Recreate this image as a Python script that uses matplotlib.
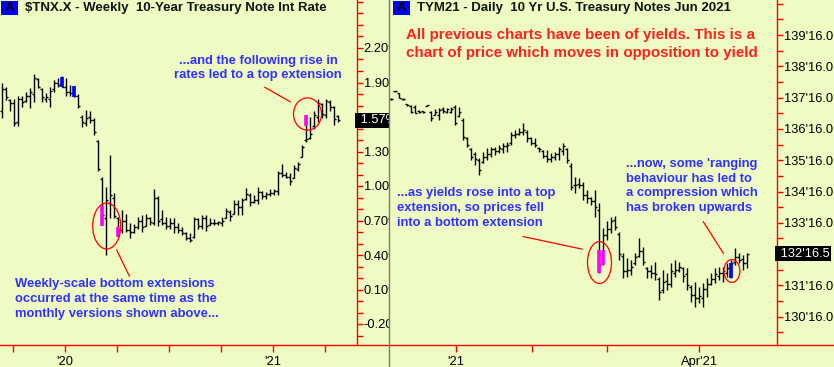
import numpy as np
import matplotlib
matplotlib.use("Agg")
import matplotlib.pyplot as plt
from matplotlib.patches import Rectangle, Ellipse
from matplotlib.lines import Line2D

plt.rcParams['font.family'] = ['Liberation Sans', 'DejaVu Sans']

# ---- $TNX.X weekly (yield, %) ----
tnx_open = [1.65, 1.84, 1.75, 1.72, 1.56, 1.76, 1.74, 1.78, 1.80, 1.93,
            1.84, 1.76, 1.76, 1.84, 1.90, 1.89, 1.86, 1.82, 1.81, 1.78,
            1.60, 1.55, 1.60, 1.57, 1.39, 1.06, 0.72, 0.85, 0.90, 0.72,
            0.62, 0.70, 0.62, 0.60, 0.64, 0.70, 0.65, 0.72, 0.68, 0.90,
            0.71, 0.68, 0.65, 0.68, 0.64, 0.62, 0.59, 0.55, 0.56, 0.71,
            0.65, 0.72, 0.66, 0.68, 0.68, 0.68, 0.72, 0.77, 0.76, 0.84,
            0.82, 0.89, 0.92, 0.86, 0.88, 0.95, 0.91, 0.93, 0.94, 0.96,
            1.11, 1.10, 1.08, 1.07, 1.15, 1.25, 1.40, 1.42, 1.52, 1.60,
            1.71, 1.62, 1.73, 1.69, 1.61]
tnx_high = [1.90, 1.86, 1.76, 1.76, 1.78, 1.78, 1.82, 1.85, 1.97, 1.94,
            1.85, 1.81, 1.86, 1.92, 1.94, 1.96, 1.94, 1.88, 1.87, 1.80,
            1.62, 1.66, 1.65, 1.59, 1.40, 1.08, 0.99, 1.27, 0.94, 0.73,
            0.79, 0.76, 0.68, 0.67, 0.73, 0.75, 0.76, 0.73, 0.97, 0.91,
            0.79, 0.73, 0.72, 0.72, 0.68, 0.64, 0.60, 0.59, 0.73, 0.72,
            0.75, 0.75, 0.72, 0.71, 0.70, 0.73, 0.81, 0.79, 0.88, 0.88,
            0.90, 0.98, 0.94, 0.92, 0.99, 0.96, 0.95, 0.97, 0.97, 1.13,
            1.19, 1.12, 1.11, 1.18, 1.21, 1.36, 1.62, 1.60, 1.65, 1.76,
            1.72, 1.76, 1.75, 1.70, 1.62]
tnx_low = [1.59, 1.75, 1.65, 1.52, 1.52, 1.69, 1.73, 1.68, 1.73, 1.85,
           1.73, 1.73, 1.69, 1.82, 1.86, 1.86, 1.78, 1.78, 1.77, 1.68,
           1.51, 1.52, 1.55, 1.44, 1.13, 0.66, 0.40, 0.72, 0.72, 0.56,
           0.59, 0.60, 0.55, 0.59, 0.63, 0.60, 0.65, 0.66, 0.66, 0.65,
           0.66, 0.63, 0.63, 0.59, 0.59, 0.57, 0.53, 0.51, 0.55, 0.63,
           0.63, 0.61, 0.66, 0.66, 0.66, 0.65, 0.72, 0.70, 0.76, 0.75,
           0.75, 0.88, 0.83, 0.85, 0.84, 0.89, 0.89, 0.91, 0.92, 0.92,
           1.08, 1.07, 1.01, 1.07, 1.13, 1.25, 1.38, 1.41, 1.50, 1.56,
           1.59, 1.59, 1.65, 1.53, 1.56]
tnx_close = [1.84, 1.77, 1.72, 1.55, 1.76, 1.73, 1.78, 1.82, 1.94, 1.86,
             1.77, 1.77, 1.83, 1.90, 1.88, 1.86, 1.82, 1.81, 1.78, 1.70,
             1.56, 1.59, 1.57, 1.47, 1.15, 0.75, 0.88, 0.92, 0.74, 0.62,
             0.70, 0.62, 0.60, 0.64, 0.70, 0.64, 0.72, 0.69, 0.90, 0.70,
             0.68, 0.65, 0.68, 0.64, 0.62, 0.59, 0.55, 0.53, 0.71, 0.65,
             0.72, 0.65, 0.68, 0.68, 0.69, 0.70, 0.78, 0.74, 0.84, 0.82,
             0.88, 0.93, 0.86, 0.88, 0.95, 0.91, 0.93, 0.94, 0.96, 1.11,
             1.10, 1.08, 1.04, 1.16, 1.19, 1.34, 1.41, 1.45, 1.62, 1.72,
             1.63, 1.74, 1.69, 1.58, 1.57]
tnx_hl_idx = [15, 18, 25, 29, 76]
tnx_hl_top = [1.95, 1.87, 0.83, 0.64, 1.62]
tnx_hl_bot = [1.86, 1.77, 0.655, 0.56, 1.52]
tnx_hl_col = ['#0000ff', '#0000ff', '#ff00ff', '#ff00ff', '#ff00ff']
tnx_ticks = [2.8, 15.8, 28.8, 41.8, 54.8, 67.8, 80.8]
tnx_ticklabels = ['', "'20", '', '', '', "'21", '']
tnx_ylabels = [2.20, 1.90, 1.60, 1.30, 1.00, 0.70, 0.40, 0.10, -0.20]
tnx_last = 1.57

# ---- TYM21 daily (price, points) ----
ty_open = [137.46, 137.71, 137.65, 137.47, 137.28, 137.24, 137.20, 137.08, 137.06, 137.24,
           137.05, 136.96, 136.95, 137.15, 137.05, 137.05, 137.20, 136.90, 136.80, 136.20,
           135.85, 135.70, 135.50, 135.45, 135.60, 135.70, 135.85, 135.80, 135.85, 135.95,
           136.05, 136.30, 136.35, 136.40, 136.40, 136.20, 136.05, 135.90, 135.80, 135.65,
           135.55, 135.60, 135.70, 135.80, 135.85, 135.30, 134.70, 134.75, 134.70, 134.40,
           134.30, 134.20, 133.90, 132.30, 133.10, 133.30, 133.60, 133.15, 132.45, 131.95,
           132.00, 132.20, 132.45, 132.60, 132.05, 131.95, 131.90, 131.70, 131.35, 131.65,
           131.55, 131.90, 132.00, 132.05, 131.85, 131.45, 131.20, 131.10, 131.10, 131.40,
           131.55, 131.70, 131.80, 131.90, 131.90, 131.80, 132.25, 132.40, 132.35, 132.20]
ty_high = [137.48, 137.72, 137.66, 137.48, 137.29, 137.26, 137.26, 137.10, 137.08, 137.26,
           137.08, 137.13, 137.16, 137.21, 137.16, 137.21, 137.26, 137.21, 136.84, 136.25,
           135.88, 135.77, 135.56, 135.77, 135.88, 135.93, 135.93, 135.99, 136.04, 136.09,
           136.41, 136.46, 136.52, 136.68, 136.46, 136.25, 136.20, 135.93, 135.83, 135.83,
           135.72, 135.77, 135.93, 136.04, 135.88, 135.40, 134.95, 134.92, 134.81, 134.55,
           134.33, 134.55, 134.12, 133.32, 133.55, 133.70, 133.72, 133.22, 132.52, 132.36,
           132.31, 132.52, 133.00, 132.74, 132.10, 132.15, 132.26, 131.78, 131.99, 131.89,
           132.21, 132.31, 132.26, 132.10, 132.05, 131.51, 131.62, 131.46, 131.57, 131.73,
           131.89, 132.05, 132.10, 132.10, 132.21, 132.31, 132.68, 132.52, 132.47, 132.52]
ty_low = [137.42, 137.68, 137.48, 137.42, 137.23, 137.00, 137.00, 137.00, 137.00, 137.23,
          136.75, 136.94, 136.78, 137.00, 137.00, 137.00, 136.62, 136.87, 136.15, 135.93,
          135.51, 135.35, 135.03, 135.40, 135.51, 135.61, 135.67, 135.72, 135.72, 135.77,
          135.99, 136.20, 136.31, 136.31, 136.09, 135.99, 135.93, 135.77, 135.56, 135.45,
          135.45, 135.51, 135.51, 135.67, 135.40, 134.55, 134.45, 134.60, 134.23, 134.12,
          134.07, 133.70, 131.89, 132.15, 132.95, 133.16, 133.27, 132.31, 131.73, 131.78,
          131.83, 132.15, 132.42, 132.15, 131.73, 131.73, 131.67, 131.03, 131.25, 131.35,
          131.46, 131.78, 131.94, 131.62, 131.35, 130.98, 130.82, 130.93, 130.82, 131.14,
          131.51, 131.57, 131.67, 131.62, 131.78, 131.73, 132.15, 132.21, 131.99, 132.05]
ty_close = [137.44, 137.70, 137.50, 137.44, 137.25, 137.05, 137.02, 137.03, 137.04, 137.25,
            136.85, 137.05, 137.10, 137.08, 137.12, 137.15, 136.70, 137.05, 136.25, 136.00,
            135.60, 135.55, 135.20, 135.60, 135.70, 135.85, 135.80, 135.88, 135.95, 136.00,
            136.30, 136.35, 136.40, 136.45, 136.20, 136.05, 136.00, 135.85, 135.65, 135.55,
            135.60, 135.70, 135.85, 135.95, 135.50, 134.65, 134.70, 134.70, 134.40, 134.30,
            134.20, 134.00, 132.15, 133.10, 133.30, 133.55, 133.35, 132.50, 131.95, 132.00,
            132.10, 132.40, 132.60, 132.25, 131.95, 131.90, 131.85, 131.30, 131.60, 131.55,
            131.95, 132.00, 132.10, 131.80, 131.50, 131.20, 131.10, 131.15, 131.40, 131.55,
            131.70, 131.85, 131.90, 131.95, 132.05, 132.20, 132.40, 132.30, 132.20, 132.516]
ty_hl_idx = [52, 53, 85]
ty_hl_top = [132.63, 132.63, 132.21]
ty_hl_bot = [131.89, 132.15, 131.73]
ty_hl_col = ['#ff00ff', '#ff00ff', '#0000ff']
ty_ticks = [16.25, 35.25, 54.15, 77.15]
ty_ticklabels = ["'21", '', '', "Apr'21"]
ty_ylabels = [139.5, 138.5, 137.5, 136.5, 135.5, 134.5, 133.5, 132.5, 131.5, 130.5]
ty_last = 132.516

W, H = 834, 367
BG = '#eefcc4'
BLUE_TXT = '#3030ff'
RED = '#ff0000'


def fx(x):
    return x / W


def fy(y):
    return 1 - y / H


def draw_bars(ax, o, h, l, c):
    x = np.arange(len(h))
    ax.vlines(x, l, h, color='black', lw=1.0)
    ax.hlines(o, x - 0.45, x, color='black', lw=1.0)
    ax.hlines(c, x, x + 0.45, color='black', lw=1.0)


def draw_highlights(ax, idx, top, bot, cols):
    ax.vlines(idx, bot, top, colors=cols, lw=2.6, zorder=3)


def style_axis(ax):
    ax.set_facecolor(BG)
    for s in ['left', 'top', 'bottom']:
        ax.spines[s].set_visible(False)
    ax.spines['right'].set_color(RED)
    ax.spines['right'].set_linewidth(1.0)
    ax.yaxis.tick_right()
    ax.tick_params(axis='y', which='both', colors=RED, labelcolor='black',
                   length=4, width=1, labelsize=9.3, pad=0.8)
    ax.tick_params(axis='x', which='both', colors=RED, labelcolor='black',
                   length=5, width=1, labelsize=9.3, pad=3)


def tag_hidden(labels, values, last, gap):
    # the last-price tag sits on top of the nearest scale label
    return ['' if abs(v - last) < gap else s for s, v in zip(labels, values)]


fig = plt.figure(figsize=(W / 100, H / 100), dpi=100, facecolor=BG)
ax1 = fig.add_axes([0, fy(345), fx(357), 345 / H])
ax2 = fig.add_axes([fx(389), fy(345), fx(777 - 389), 345 / H])

# left panel: weekly yield
draw_bars(ax1, tnx_open, tnx_high, tnx_low, tnx_close)
draw_highlights(ax1, tnx_hl_idx, tnx_hl_top, tnx_hl_bot, tnx_hl_col)
ax1.set_xlim(-0.425, 88.825)
ax1.set_ylim(2.20 - 297 / 115, 2.20 + 48 / 115)
style_axis(ax1)
ax1.set_yticks(tnx_ylabels)
ax1.set_yticklabels(tag_hidden(['%.2f%%' % v for v in tnx_ylabels], tnx_ylabels, tnx_last, 0.1))
ax1.set_yticks(np.arange(-0.3, 2.61, 0.1), minor=True)
ax1.set_xticks(tnx_ticks)
ax1.set_xticklabels(tnx_ticklabels)
ax1.text(1.0, tnx_last, ' %.2f%%' % tnx_last, transform=ax1.get_yaxis_transform(),
         color='white', fontsize=9.3, va='center', ha='left',
         bbox=dict(boxstyle='square,pad=0.12', fc='black', ec='none'))

ax1.add_patch(Ellipse((26.25, 0.652), 7, 0.40, fill=False, ec=RED, lw=0.9, zorder=4))
ax1.add_patch(Ellipse((76.45, 1.626), 7, 0.28, fill=False, ec=RED, lw=0.9, zorder=4))
ax1.plot([65.8, 72.1], [1.858, 1.733], color=RED, lw=0.9)
ax1.plot([28.75, 31.9], [0.443, 0.217], color=RED, lw=0.9)

# right panel: daily price
draw_bars(ax2, ty_open, ty_high, ty_low, ty_close)
draw_highlights(ax2, ty_hl_idx, ty_hl_top, ty_hl_bot, ty_hl_col)
ax2.set_xlim(-0.425, 96.575)
ax2.set_ylim(139.5 - 310 / 31.3, 139.5 + 35 / 31.3)
style_axis(ax2)
ax2.set_yticks(ty_ylabels)
ax2.set_yticklabels(tag_hidden(["%d'16.0" % int(v) for v in ty_ylabels], ty_ylabels, ty_last, 0.3))
ax2.set_yticks(np.arange(130.0, 140.6, 0.5), minor=True)
ax2.set_xticks(ty_ticks)
ax2.set_xticklabels(ty_ticklabels)
ax2.text(1.0, ty_last, " %d'%.1f" % (int(ty_last), (ty_last - int(ty_last)) * 32),
         transform=ax2.get_yaxis_transform(), color='white', fontsize=9.3,
         va='center', ha='left',
         bbox=dict(boxstyle='square,pad=0.12', fc='black', ec='none'))

ax2.add_patch(Ellipse((52.2, 132.23), 6, 1.34, fill=False, ec=RED, lw=0.9, zorder=4))
ax2.add_patch(Ellipse((85.3, 131.96), 4, 0.73, fill=False, ec=RED, lw=0.9, zorder=4))
ax2.plot([33.1, 47.8], [133.06, 132.66], color=RED, lw=0.9)
ax2.plot([78.15, 83.15], [133.535, 132.526], color=RED, lw=0.9)

# frame lines
fig.add_artist(Line2D([0, 1], [fy(345), fy(345)], transform=fig.transFigure,
                      color=RED, lw=1.0, zorder=5))
fig.add_artist(Line2D([fx(389), fx(389)], [0, 1], transform=fig.transFigure,
                      color='#7a7a7a', lw=1.0, zorder=5))

# headers
for x0, title in [(1, r'\$TNX.X - Weekly  10-Year Treasury Note Int Rate'),
                  (393, 'TYM21 - Daily  10 Yr U.S. Treasury Notes Jun 2021')]:
    fig.add_artist(Rectangle((fx(x0), fy(15)), 17 / W, 14 / H, transform=fig.transFigure,
                             fc='#0000ff', ec='none', zorder=5))
    fig.text(fx(x0 + 8.5), fy(8), 'A', color='black', fontsize=9.5, fontweight='bold',
             ha='center', va='center', zorder=6)
    fig.text(fx(x0 + 24), fy(8), title, color='#141414', fontsize=9.5, fontweight='bold',
             ha='left', va='center', zorder=6)

# comments
note = dict(color=BLUE_TXT, fontsize=9.4, fontweight='bold', va='center', linespacing=1.3)
fig.text(fx(258), fy(68), '...and the following rise in\nrates led to a top extension',
         ha='center', **note)
fig.text(fx(15), fy(299), 'Weekly-scale bottom extensions\noccurred at the same time as the\nmonthly versions shown above...',
         ha='left', **note)
fig.text(fx(397), fy(208), '...as yields rose into a top\nextension, so prices fell\ninto a bottom extension',
         ha='left', **note)
fig.text(fx(626), fy(186), "...now, some 'ranging\nbehaviour has led to\na compression which\nhas broken upwards",
         ha='left', **note)
fig.text(fx(406), fy(44), 'All previous charts have been of yields. This is a\nchart of price which moves in opposition to yield',
         color='#ff2020', fontsize=10.9, fontweight='bold', ha='left', va='center',
         linespacing=1.28)

fig.savefig('out.png', dpi=100, facecolor=BG)
